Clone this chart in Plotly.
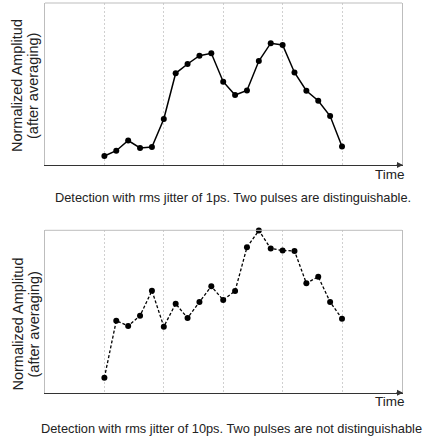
import plotly.graph_objects as go

# sample index along time axis
t = list(range(21))
# normalized amplitude (arbitrary units), 1 ps jitter
amp_1ps = [9.0, 14.3, 24.5, 17.0, 18.0, 46.0, 91.7, 101.0, 109.3, 111.7, 83.3, 70.0,
           74.5, 104.0, 121.8, 120.0, 92.5, 74.3, 64.3, 49.0, 18.5]
# normalized amplitude (arbitrary units), 10 ps jitter
amp_10ps = [15.0, 72.0, 66.7, 77.0, 102.0, 66.0, 89.0, 74.7, 90.7, 106.4, 92.7, 101.7,
            145.4, 162.2, 144.2, 142.2, 141.8, 109.4, 116.0, 90.7, 74.0]
captions = ["Detection with rms jitter of 1ps. Two pulses are distinguishable.",
            "Detection with rms jitter of 10ps. Two pulses are not distinguishable"]
ylabel1 = "Normalized Amplitud"
ylabel2 = "(after averaging)"
xlabel = "Time"
grid_ticks = [0, 5, 10, 15, 20]

W, H = 428, 439
FONT = "Liberation Sans, Arial, sans-serif"
TXT = "#222"

def px_x(p):
    return p / W

def px_y(p):
    return 1 - p / H

fig = go.Figure()
fig.add_trace(go.Scatter(x=t, y=amp_1ps, mode="lines+markers", xaxis="x", yaxis="y",
                         line=dict(color="black", width=1.5),
                         marker=dict(color="black", size=6), cliponaxis=False,
                         showlegend=False))
fig.add_trace(go.Scatter(x=t, y=amp_10ps, mode="lines+markers", xaxis="x2", yaxis="y2",
                         line=dict(color="black", width=1.3, dash="3px,2px"),
                         marker=dict(color="black", size=6), cliponaxis=False,
                         showlegend=False))

XL, XR = 45, 402
xdom = [px_x(XL), px_x(XR)]
top = (3, 165)
bot = (230.3, 392.7)
FRAME = "#bdbdbd"

xcommon = dict(range=[-5, 25.05], tickvals=grid_ticks, showticklabels=False, ticks="",
               showgrid=True, gridcolor="#d0d0d0", griddash="2px,2px", gridwidth=1,
               showline=True, linecolor="#333", linewidth=1.2, zeroline=False,
               domain=xdom, fixedrange=True)
ycommon = dict(showticklabels=False, ticks="", showgrid=False, zeroline=False,
               showline=True, mirror=True, linecolor=FRAME, linewidth=1, fixedrange=True)

fig.update_layout(
    width=W, height=H,
    margin=dict(l=0, r=0, t=0, b=0),
    paper_bgcolor="white", plot_bgcolor="white",
    xaxis=dict(**xcommon, anchor="y"),
    yaxis=dict(**ycommon, range=[0, 162], domain=[px_y(top[1]), px_y(top[0])], anchor="x"),
    xaxis2=dict(**xcommon, anchor="y2"),
    yaxis2=dict(**ycommon, range=[0, 162.4], domain=[px_y(bot[1]), px_y(bot[0])], anchor="x2"),
)

shapes = []
for xr, yr in [("x domain", "y domain"), ("x2 domain", "y2 domain")]:
    shapes.append(dict(type="line", xref=xr, yref=yr, x0=0, y0=1, x1=1, y1=1,
                       line=dict(color=FRAME, width=1), layer="above"))
fig.update_layout(shapes=shapes)

ann = []
for (ytop, ybot), cap, capy, capx in [(top, captions[0], 197, 233), (bot, captions[1], 428, 231)]:
    yc = (ytop + ybot) / 2 + (2 if ytop < 100 else 13)
    ann.append(dict(text=ylabel1, x=px_x(17), y=px_y(yc), xref="paper", yref="paper",
                    showarrow=False, textangle=-90, xanchor="center", yanchor="middle",
                    font=dict(family=FONT, size=14.5, color=TXT)))
    ann.append(dict(text=ylabel2, x=px_x(33), y=px_y(yc), xref="paper", yref="paper",
                    showarrow=False, textangle=-90, xanchor="center", yanchor="middle",
                    font=dict(family=FONT, size=14.5, color=TXT)))
    ann.append(dict(text=xlabel, x=px_x(407), y=px_y(ybot + 9), xref="paper", yref="paper",
                    showarrow=False, xanchor="right", yanchor="middle",
                    font=dict(family=FONT, size=13.5, color=TXT)))
    ann.append(dict(text=cap, x=px_x(capx), y=px_y(capy), xref="paper", yref="paper",
                    showarrow=False, xanchor="center", yanchor="middle",
                    font=dict(family=FONT, size=12.8, color=TXT)))
    # arrow head at the right end of the time axis
    ann.append(dict(text="", x=px_x(403), y=px_y(ybot), xref="paper", yref="paper",
                    ax=-8, ay=0, axref="pixel", ayref="pixel", showarrow=True,
                    arrowhead=2, arrowsize=1, arrowwidth=1.2, arrowcolor="#333"))
fig.update_layout(annotations=ann)

fig.write_html("out.html", config={"displayModeBar": False},
               post_script="document.body.style.margin='0px';")
